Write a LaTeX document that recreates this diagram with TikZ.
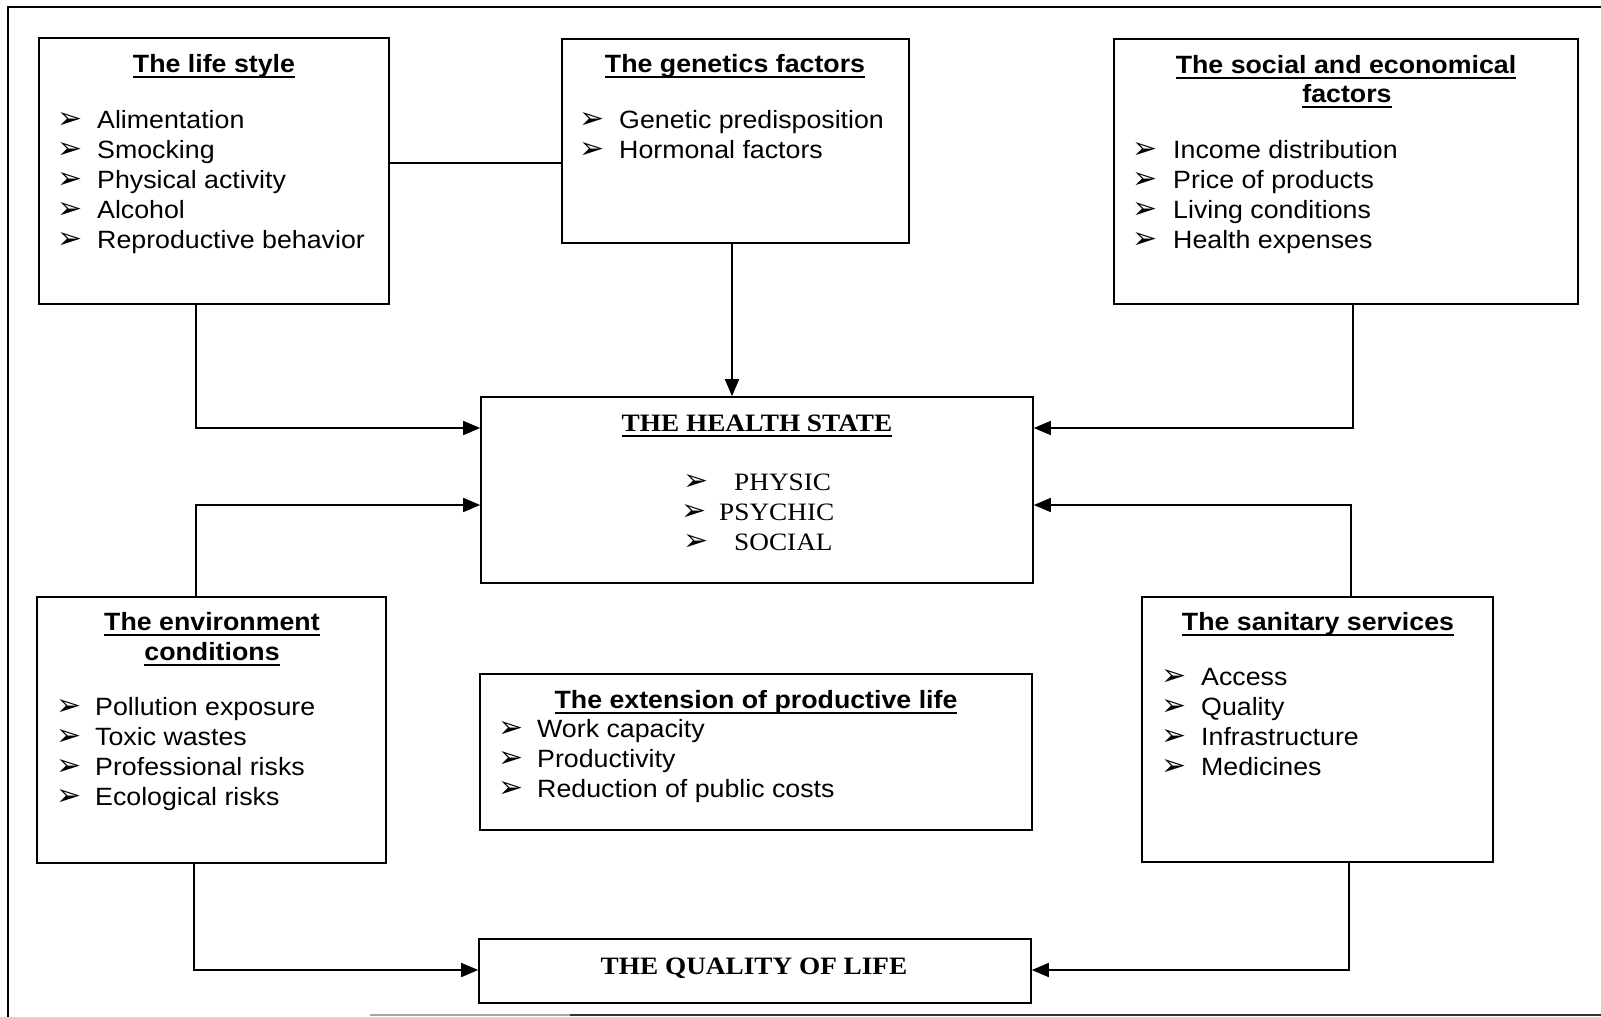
\documentclass[tikz,border=0pt]{standalone}
\usepackage{fontspec}
\setmainfont{Liberation Sans}[FakeStretch=1.07]
\newfontfamily\tms{Liberation Serif}[FakeStretch=1.09]
\newfontfamily\sym{DejaVu Sans}
\usetikzlibrary{arrows.meta}
\newcommand\myul[1]{\setbox0\hbox{#1}\rlap{\rule[-6pt]{\wd0}{2pt}}\box0}
\begin{document}
\begin{tikzpicture}[x=1pt,y=-1pt,
  box/.style={draw, line width=1.6pt, inner sep=0pt, rectangle},
  ttl/.style={anchor=base, inner sep=0pt, font=\fontsize{25}{30}\selectfont\bfseries},
  tttl/.style={anchor=base, inner sep=0pt, font=\tms\fontsize{25}{30}\selectfont\bfseries},
  itm/.style={anchor=base west, inner sep=0pt, font=\fontsize{25}{30}\selectfont},
  titm/.style={anchor=base west, inner sep=0pt, font=\tms\fontsize{25}{30}\selectfont},
  bul/.style={anchor=base west, inner sep=0pt, font=\sym\fontsize{30}{30}\selectfont},
  arr/.style={line width=1.6pt, -{Triangle[length=17pt,width=14pt]}},
  ln/.style={line width=1.6pt}]
\useasboundingbox (0,0) rectangle (1601,1017);
% outer frame
\draw[ln] (1601,7) -- (8,7) -- (8,1017);
\draw[line width=1.6pt, black!35] (370,1015) -- (570,1015);
\draw[line width=1.6pt, black!80] (570,1015) -- (1601,1015);

% boxes
\node[box, minimum width=350pt, minimum height=266pt] (life) at (214,171) {};
\node[box, minimum width=347pt, minimum height=204pt] (gen) at (735.5,141) {};
\node[box, minimum width=464pt, minimum height=265pt] (soc) at (1346,171.5) {};
\node[box, minimum width=552pt, minimum height=186pt] (health) at (757,490) {};
\node[box, minimum width=349pt, minimum height=266pt] (env) at (211.5,730) {};
\node[box, minimum width=552pt, minimum height=156pt] (ext) at (756,752) {};
\node[box, minimum width=351pt, minimum height=265pt] (san) at (1317.5,729.5) {};
\node[box, minimum width=552pt, minimum height=64pt] (qual) at (755,971) {};

% life style
\node[ttl] (lifet) at (214,72) {\myul{The life style}};
\foreach \t [count=\i] in {Alimentation, Smocking, Physical activity, Alcohol, Reproductive behavior}{
  \node[bul] (lifeb\i) at (57,98+30*\i) {➢};
  \node[itm] (lifei\i) at (97,98+30*\i) {\t};
}
% genetics
\node[ttl] (gent) at (735,72) {\myul{The genetics factors}};
\foreach \t [count=\i] in {Genetic predisposition, Hormonal factors}{
  \node[bul] (genb\i) at (579,98+30*\i) {➢};
  \node[itm] (geni\i) at (619,98+30*\i) {\t};
}
% social
\node[ttl] (soct1) at (1346,73) {\myul{The social and economical}};
\node[ttl] (soct2) at (1347,102) {\myul{factors}};
\foreach \t [count=\i] in {Income distribution, Price of products, Living conditions, Health expenses}{
  \node[bul] (socb\i) at (1132,128+30*\i) {➢};
  \node[itm] (soci\i) at (1173,128+30*\i) {\t};
}
% health
\node[tttl] (healtht) at (757,431) {\myul{THE HEALTH STATE}};
\node[bul] (hb1) at (683,490) {➢};
\node[titm] (hi1) at (734,490) {PHYSIC};
\node[bul] (hb2) at (681,520) {➢};
\node[titm] (hi2) at (719,520) {PSYCHIC};
\node[bul] (hb3) at (683,550) {➢};
\node[titm] (hi3) at (734,550) {SOCIAL};
% environment
\node[ttl] (envt1) at (212,630) {\myul{The environment}};
\node[ttl] (envt2) at (212,660) {\myul{conditions}};
\foreach \t [count=\i] in {Pollution exposure, Toxic wastes, Professional risks, Ecological risks}{
  \node[bul] (envb\i) at (56,685+30*\i) {➢};
  \node[itm] (envi\i) at (95,685+30*\i) {\t};
}
% extension
\node[ttl] (extt) at (756,708) {\myul{The extension of productive life}};
\foreach \t [count=\i] in {Work capacity, Productivity, Reduction of public costs}{
  \node[bul] (extb\i) at (498,707+30*\i) {➢};
  \node[itm] (exti\i) at (537,707+30*\i) {\t};
}
% sanitary
\node[ttl] (sant) at (1318,630) {\myul{The sanitary services}};
\foreach \t [count=\i] in {Access, Quality, Infrastructure, Medicines}{
  \node[bul] (sanb\i) at (1161,655+30*\i) {➢};
  \node[itm] (sani\i) at (1201,655+30*\i) {\t};
}
% quality
\node[tttl] (qualt) at (754,974) {THE QUALITY OF LIFE};

% connectors
\draw[ln] (life.east |- 0,163) -- (gen.west |- 0,163);
\draw[arr] (gen.south -| 732,0) -- (health.north -| 732,0);
\draw[arr] (life.south -| 196,0) |- (health.west |- 0,428);
\draw[arr] (soc.south -| 1353,0) |- (health.east |- 0,428);
\draw[arr] (env.north -| 196,0) |- (health.west |- 0,505);
\draw[arr] (san.north -| 1351,0) |- (health.east |- 0,505);
\draw[arr] (env.south -| 194,0) |- (qual.west |- 0,970);
\draw[arr] (san.south -| 1349,0) |- (qual.east |- 0,970);
\end{tikzpicture}
\end{document}
